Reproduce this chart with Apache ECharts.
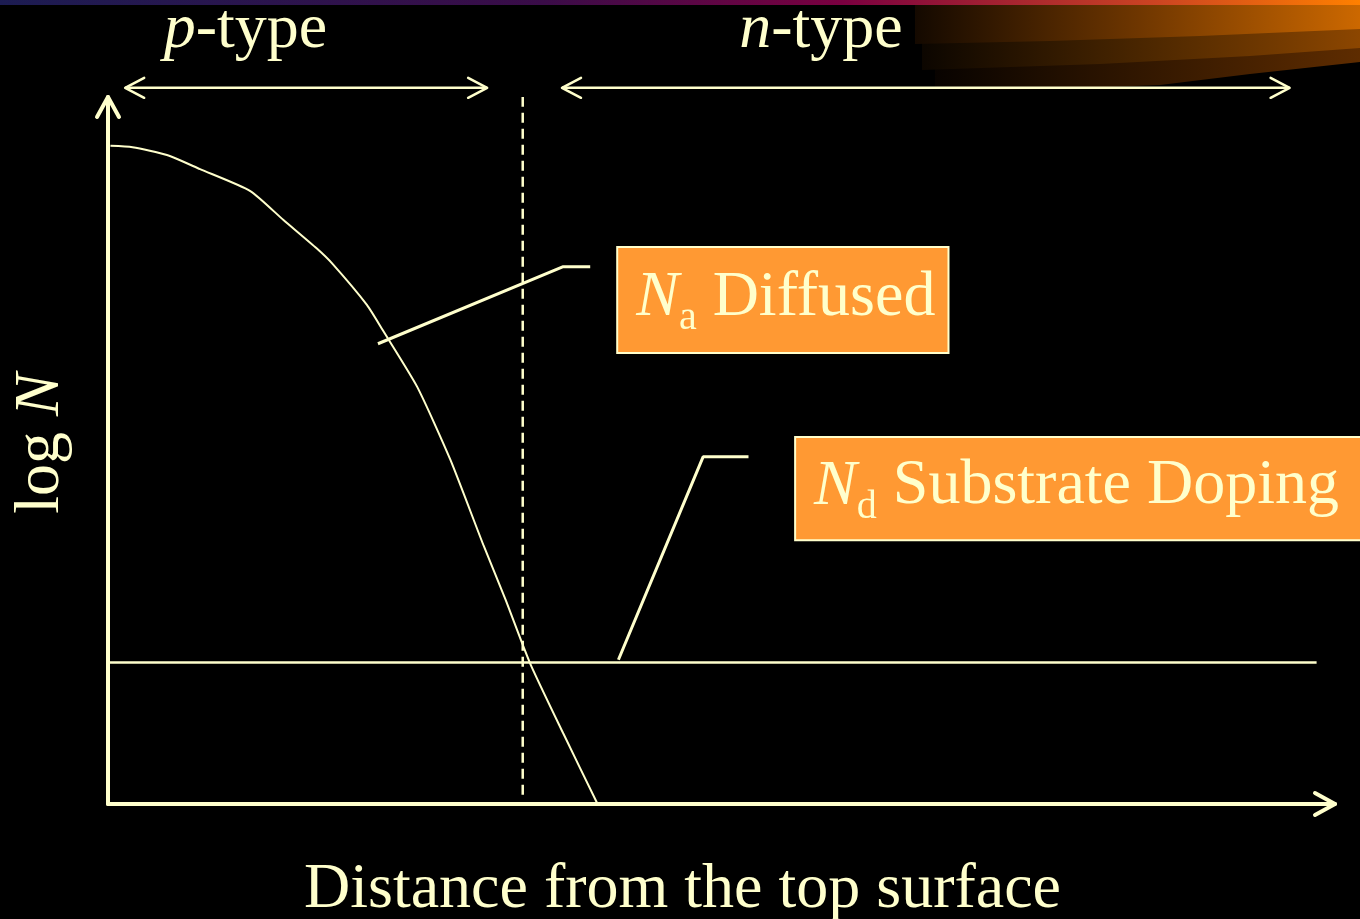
<!DOCTYPE html>
<html>
<head>
<meta charset="utf-8">
<title>Diffused p-n junction profile</title>
<script src="https://cdn.jsdelivr.net/npm/echarts@6/dist/echarts.min.js"></script>
<style>
    html, body { margin: 0; padding: 0; background: #000; }
    #main { width: 1360px; height: 919px; }
</style>
</head>
<body>
<div id="main"></div>
<script>
    // N_a diffused profile (x: distance from surface, y: log N)
    var naX = [0.02, 0.20, 0.48, 0.75, 1.16, 1.43, 1.70, 1.83, 2.11, 2.24, 2.52, 2.79, 3.06, 3.24, 3.44, 3.71, 3.99];
    var naY = [9.31, 9.29, 9.18, 8.98, 8.67, 8.26, 7.86, 7.64, 7.06, 6.70, 5.90, 4.87, 3.66, 2.89, 1.99, 1.00, 0.00];
    // N_d substrate doping (flat)
    var ndX = [0, 9.85];
    var ndY = [2.0, 2.0];
    // junction (dashed)
    var junctionX = [3.38, 3.38];
    var junctionY = [0.13, 10.0];
    // leader lines to the boxes
    var naLeadX = [2.20, 3.71, 3.93];
    var naLeadY = [6.51, 7.60, 7.60];
    var ndLeadX = [4.16, 4.85, 5.22];
    var ndLeadY = [2.04, 4.91, 4.91];
    // p-type / n-type span arrows
    var spanStart = [0.14, 3.70];
    var spanEnd = [3.09, 9.63];
    var spanY = [10.13, 10.13];
    var spanLabels = ['{i|p}{r|-type}', '{i|n}{r|-type}'];
    var spanLabelX = [1.12, 5.81];
    var spanLabelY = [10.95, 10.95];
    // annotation boxes
    var boxMain = ['N', 'N'];
    var boxSub = ['a', 'd'];
    var boxRest = [' Diffused', ' Substrate Doping'];
    var boxLeft = [4.15, 5.60];
    var boxTop = [7.88, 5.19];
    var boxRight = [6.85, 10.3];
    var boxBottom = [6.38, 3.73];
    // axis ends (arrow tips) and direction in degrees on screen
    var axisTipX = [10, 0];
    var axisTipY = [0, 10];
    var axisTipDir = [0, -90];

    var ink = '#FFFFCC';
    var font = '"Liberation Serif", "Times New Roman", serif';

    var measureCtx = document.createElement('canvas').getContext('2d');
    function textWidth(str, size, style) {
        measureCtx.font = (style || '') + ' ' + size + 'px ' + font;
        return measureCtx.measureText(str).width;
    }

    function pairs(xs, ys) {
        var out = [];
        for (var i = 0; i < xs.length; i++) out.push([xs[i], ys[i]]);
        return out;
    }

    function chevron(p, deg, back, half, width) {
        var a = deg * Math.PI / 180;
        var c = Math.cos(a), s = Math.sin(a);
        var bx = p[0] - back * c, by = p[1] - back * s;
        return {
            type: 'polyline',
            shape: {points: [[bx - half * s, by + half * c], p, [bx + half * s, by - half * c]]},
            style: {stroke: ink, fill: null, lineWidth: width, lineCap: 'round', lineJoin: 'round'}
        };
    }

    var chart = echarts.init(document.getElementById('main'));

    var option = {
        backgroundColor: '#000',
        animation: false,
        textStyle: {fontFamily: font, color: ink},
        grid: {left: 108, right: 25, top: 97, bottom: 115, containLabel: false, outerBoundsMode: 'none'},
        xAxis: {
            type: 'value', min: 0, max: 10,
            name: 'Distance from the top surface',
            nameLocation: 'middle',
            nameGap: 54,
            nameTextStyle: {color: ink, fontSize: 64, fontFamily: font, padding: [0, 78, 0, 0]},
            axisLine: {show: true, lineStyle: {color: ink, width: 4}},
            axisTick: {show: false}, axisLabel: {show: false}, splitLine: {show: false}
        },
        yAxis: {
            type: 'value', min: 0, max: 10,
            name: '{r|log }{i|N}',
            nameLocation: 'middle',
            nameRotate: 90,
            nameGap: 35,
            nameTextStyle: {
                color: ink, fontSize: 64, fontFamily: font, padding: [0, 0, 0, 14],
                rich: {
                    r: {color: ink, fontSize: 64, fontFamily: font},
                    i: {color: ink, fontSize: 64, fontFamily: font, fontStyle: 'italic'}
                }
            },
            axisLine: {show: true, lineStyle: {color: ink, width: 4}},
            axisTick: {show: false}, axisLabel: {show: false}, splitLine: {show: false}
        },
        graphic: [
            // top title bar
            {type: 'rect', z: 0, shape: {x: 0, y: 0, width: 1360, height: 5},
                style: {fill: new echarts.graphic.LinearGradient(0, 0, 1, 0, [
                    {offset: 0, color: '#1c1c52'}, {offset: 0.4, color: '#3a0c48'},
                    {offset: 0.62, color: '#7a0040'}, {offset: 0.85, color: '#cc4422'},
                    {offset: 1, color: '#ff8000'}])}},
            // swoosh, three bands
            {type: 'polygon', z: 0, shape: {points: [[935, 5], [1360, 5], [1360, 62], [1250, 74], [1160, 85], [1050, 89], [965, 90], [935, 88]]},
                style: {fill: new echarts.graphic.LinearGradient(0, 0, 1, 0, [
                    {offset: 0, color: '#080300'}, {offset: 1, color: '#5e2c00'}])}},
            {type: 'polygon', z: 0, shape: {points: [[922, 5], [1360, 5], [1360, 48], [1250, 56], [1100, 64], [922, 70]]},
                style: {fill: new echarts.graphic.LinearGradient(0, 0, 1, 0, [
                    {offset: 0, color: '#0c0600'}, {offset: 0.5, color: '#4a2600'}, {offset: 1, color: '#8c4600'}])}},
            {type: 'polygon', z: 0, shape: {points: [[915, 5], [1360, 5], [1360, 29], [1200, 36], [1050, 41], [915, 44]]},
                style: {fill: new echarts.graphic.LinearGradient(0, 0, 1, 0, [
                    {offset: 0, color: '#140900'}, {offset: 0.5, color: '#6e3600'}, {offset: 1, color: '#cc6800'}])}}
        ],
        series: [
            {
                name: 'Na', type: 'line', data: pairs(naX, naY), smooth: 0.2,
                showSymbol: false, symbol: 'none', clip: false,
                lineStyle: {color: ink, width: 2}
            },
            {
                name: 'Nd', type: 'line', data: pairs(ndX, ndY),
                showSymbol: false, symbol: 'none', clip: false,
                lineStyle: {color: ink, width: 2.5}
            },
            {
                name: 'junction', type: 'line', data: pairs(junctionX, junctionY),
                showSymbol: false, symbol: 'none', clip: false,
                lineStyle: {color: ink, width: 2.5, type: [10, 6]}
            },
            {
                name: 'naLead', type: 'line', data: pairs(naLeadX, naLeadY),
                showSymbol: false, symbol: 'none', clip: false,
                lineStyle: {color: ink, width: 3}
            },
            {
                name: 'ndLead', type: 'line', data: pairs(ndLeadX, ndLeadY),
                showSymbol: false, symbol: 'none', clip: false,
                lineStyle: {color: ink, width: 3}
            },
            {
                name: 'axisArrows', type: 'custom', clip: false, silent: true,
                data: axisTipX.map(function (x, i) { return [x, axisTipY[i], axisTipDir[i]]; }),
                renderItem: function (params, api) {
                    var p = api.coord([api.value(0), api.value(1)]);
                    return chevron(p, api.value(2), 20, 11, 4);
                }
            },
            {
                name: 'spans', type: 'custom', clip: false, silent: true,
                data: spanStart.map(function (x, i) { return [x, spanEnd[i], spanY[i]]; }),
                renderItem: function (params, api) {
                    var a = api.coord([api.value(0), api.value(2)]);
                    var b = api.coord([api.value(1), api.value(2)]);
                    return {
                        type: 'group',
                        children: [
                            {type: 'line', shape: {x1: a[0], y1: a[1], x2: b[0], y2: b[1]},
                                style: {stroke: ink, lineWidth: 2.5}},
                            chevron(a, 180, 19, 10, 2.5),
                            chevron(b, 0, 19, 10, 2.5)
                        ]
                    };
                }
            },
            {
                name: 'spanLabels', type: 'scatter', clip: false, silent: true,
                symbolSize: 0,
                itemStyle: {opacity: 1},
                data: pairs(spanLabelX, spanLabelY),
                label: {
                    show: true, position: 'inside',
                    formatter: function (p) { return spanLabels[p.dataIndex]; },
                    rich: {
                        i: {color: ink, fontSize: 64, fontFamily: font, fontStyle: 'italic'},
                        r: {color: ink, fontSize: 64, fontFamily: font}
                    }
                }
            },
            {
                name: 'boxes', type: 'custom', clip: false, silent: true,
                data: boxLeft.map(function (x, i) { return [x, boxTop[i], boxRight[i], boxBottom[i]]; }),
                renderItem: function (params, api) {
                    var i = params.dataIndex;
                    var p0 = api.coord([api.value(0), api.value(1)]);
                    var p1 = api.coord([api.value(2), api.value(3)]);
                    var tx = p0[0] + 19;
                    var ty = (p0[1] + p1[1]) / 2 - 2;
                    var wMain = textWidth(boxMain[i], 64, 'italic');
                    var wSub = textWidth(boxSub[i], 40, '');
                    return {
                        type: 'group',
                        children: [
                            {type: 'rect', shape: {x: p0[0], y: p0[1], width: p1[0] - p0[0], height: p1[1] - p0[1]},
                                style: {fill: '#FF9933', stroke: ink, lineWidth: 2}},
                            {type: 'text', x: tx, y: ty,
                                style: {text: boxMain[i], align: 'left', verticalAlign: 'middle',
                                    fill: ink, fontSize: 64, fontFamily: font, fontStyle: 'italic'}},
                            {type: 'text', x: tx + wMain, y: ty + 21,
                                style: {text: boxSub[i], align: 'left', verticalAlign: 'middle',
                                    fill: ink, fontSize: 40, fontFamily: font}},
                            {type: 'text', x: tx + wMain + wSub, y: ty,
                                style: {text: boxRest[i], align: 'left', verticalAlign: 'middle',
                                    fill: ink, fontSize: 64, fontFamily: font}}
                        ]
                    };
                }
            }
        ]
    };

    chart.setOption(option);
</script>
</body>
</html>
